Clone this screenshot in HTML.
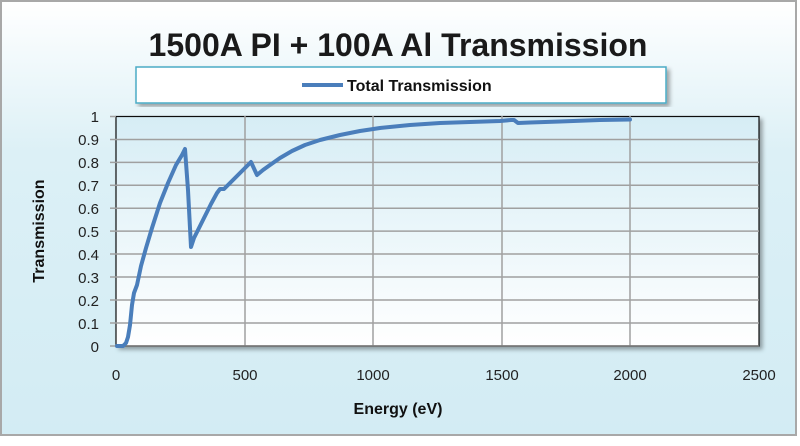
<!DOCTYPE html>
<html><head><meta charset="utf-8"><style>
body{margin:0;width:800px;height:441px;overflow:hidden;background:#fff}
</style></head><body>
<svg width="800" height="441" viewBox="0 0 800 441" xmlns="http://www.w3.org/2000/svg" font-family="Liberation Sans, sans-serif">
<defs>
<linearGradient id="bg" x1="0" y1="0" x2="0" y2="1">
<stop offset="0" stop-color="#ffffff"/><stop offset="0.35" stop-color="#dcf0f6"/><stop offset="1" stop-color="#d3ecf4"/>
</linearGradient>
<linearGradient id="pa" x1="0" y1="0" x2="0" y2="1">
<stop offset="0" stop-color="#d6edf5"/><stop offset="1" stop-color="#ffffff"/>
</linearGradient>
<filter id="sh"><feDropShadow dx="3" dy="3" stdDeviation="2" flood-color="#000" flood-opacity="0.35"/></filter>
</defs>
<rect x="1" y="1" width="795" height="434" fill="url(#bg)" stroke="#a8a8a8" stroke-width="2"/>
<text x="398" y="56" text-anchor="middle" font-size="32" font-weight="bold" fill="#1a1a1a">1500A PI + 100A Al Transmission</text>
<rect x="136" y="67" width="530" height="36" fill="#fff" stroke="#4bacc6" stroke-width="1.5" filter="url(#sh)"/>
<line x1="302" y1="85" x2="343" y2="85" stroke="#4a7ebb" stroke-width="4"/>
<text x="347" y="91" font-size="16" font-weight="bold" fill="#111">Total Transmission</text>
<rect x="116" y="116.5" width="643" height="229.5" fill="url(#pa)" stroke="#111" stroke-width="1.2" filter="url(#sh)"/>
<g stroke="#a0a0a0" stroke-width="1.5">
<line x1="116" y1="139.5" x2="759" y2="139.5"/><line x1="116" y1="162.4" x2="759" y2="162.4"/>
<line x1="116" y1="185.3" x2="759" y2="185.3"/><line x1="116" y1="208.2" x2="759" y2="208.2"/>
<line x1="116" y1="231.1" x2="759" y2="231.1"/><line x1="116" y1="254" x2="759" y2="254"/>
<line x1="116" y1="277" x2="759" y2="277"/><line x1="116" y1="300" x2="759" y2="300"/>
<line x1="116" y1="323" x2="759" y2="323"/>
<line x1="245" y1="116" x2="245" y2="346"/><line x1="373" y1="116" x2="373" y2="346"/>
<line x1="502" y1="116" x2="502" y2="346"/><line x1="630" y1="116" x2="630" y2="346"/>
<line x1="110" y1="116.5" x2="116" y2="116.5"/><line x1="110" y1="139.5" x2="116" y2="139.5"/>
<line x1="110" y1="162.4" x2="116" y2="162.4"/><line x1="110" y1="185.3" x2="116" y2="185.3"/>
<line x1="110" y1="208.2" x2="116" y2="208.2"/><line x1="110" y1="231.1" x2="116" y2="231.1"/>
<line x1="110" y1="254" x2="116" y2="254"/><line x1="110" y1="277" x2="116" y2="277"/>
<line x1="110" y1="300" x2="116" y2="300"/><line x1="110" y1="323" x2="116" y2="323"/>
<line x1="110" y1="346" x2="116" y2="346"/>
</g>
<line x1="116" y1="346" x2="759" y2="346" stroke="#777" stroke-width="1.5"/>
<g font-size="15" fill="#222" text-anchor="end">
<text x="99" y="122">1</text><text x="99" y="145">0.9</text><text x="99" y="168">0.8</text>
<text x="99" y="191">0.7</text><text x="99" y="214">0.6</text><text x="99" y="237">0.5</text>
<text x="99" y="260">0.4</text><text x="99" y="283">0.3</text><text x="99" y="306">0.2</text>
<text x="99" y="329">0.1</text><text x="99" y="352">0</text>
</g>
<g font-size="15" fill="#222" text-anchor="middle">
<text x="116" y="380">0</text><text x="245" y="380">500</text><text x="373" y="380">1000</text>
<text x="502" y="380">1500</text><text x="630" y="380">2000</text><text x="759" y="380">2500</text>
</g>
<text x="398" y="414" text-anchor="middle" font-size="16" font-weight="bold" fill="#111">Energy (eV)</text>
<text transform="translate(44,231) rotate(-90)" text-anchor="middle" font-size="16" font-weight="bold" fill="#111">Transmission</text>
<polyline fill="none" stroke="#4a7ebb" stroke-width="4" stroke-linejoin="round" stroke-linecap="round"
points="117,346 123,346 126,343 128,337 130,325 132,305 134,293 137,285 141,266 146,248 152,228 160,203 168,183 176,165 182,155 185,149 188,190 191,247 194,238 199,228 205,216 211,204 217,193 220,189 224,189 227,186 235,178 243,170 251,162 257,175 263,170 270,165 280,158 292,151 305,145 320,140 340,135 360,131 380,128 410,125 440,123 470,122 500,121 511,120 514,120 518,123 530,122.5 560,121.5 600,120 630,119.5"/>
</svg>
</body></html>
